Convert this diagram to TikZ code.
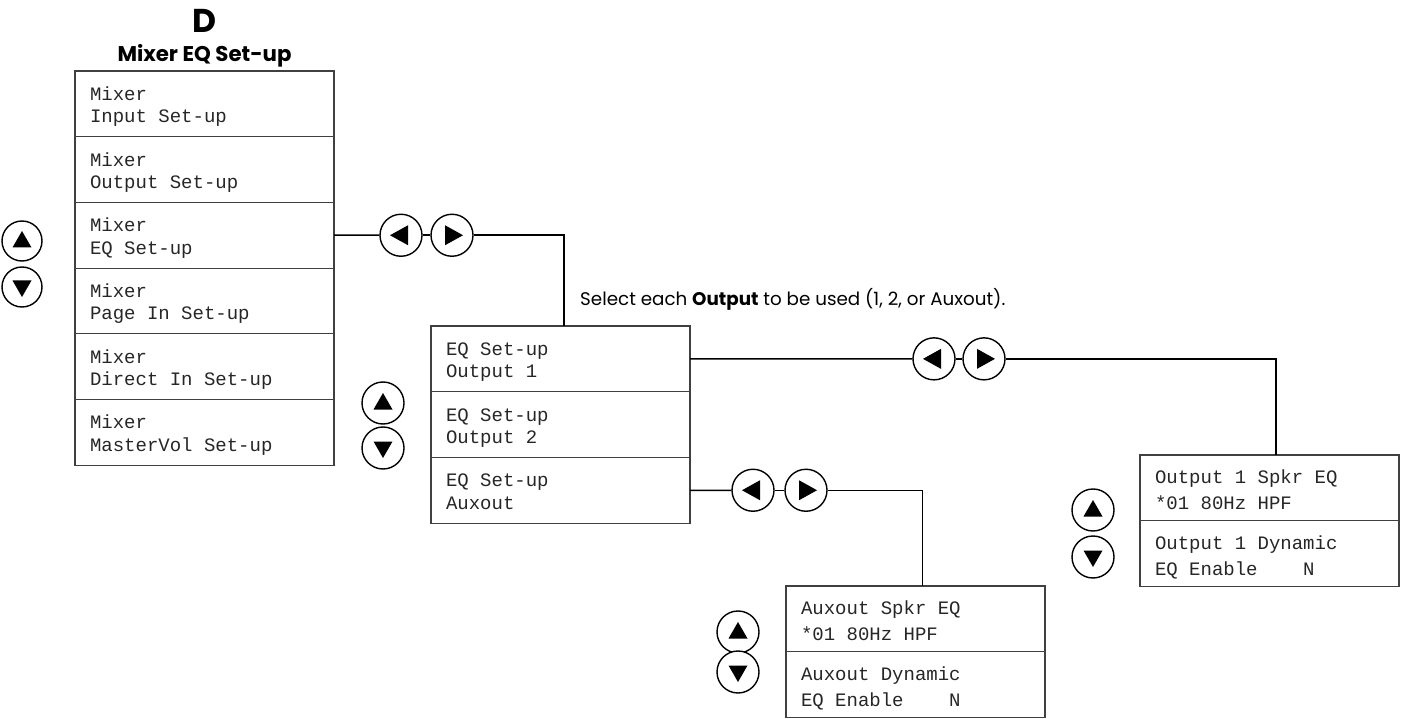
\documentclass[tikz,border=0pt]{standalone}
\usepackage{fontspec}
\setmainfont{Poppins}
\newfontfamily\lcd{Liberation Mono}
\newcommand{\lcdfont}[2]{\lcd\fontsize{#1}{#2}\selectfont}
\newcommand{\lsp}{\hspace{0.6em}}
\usetikzlibrary{calc}
\tikzset{
  row/.style={draw=black!75, line width=1.1pt, minimum width=259pt, minimum height=65.7pt,
    text width=229pt, align=left, inner sep=0pt, outer sep=0pt, anchor=north west, text=black!85,
    font=\lcdfont{19}{22.5}, text height=10pt, text depth=17pt},
  rowb/.style={row, font=\lcdfont{19}{26}, text height=10pt, text depth=18.4pt},
  conn/.style={draw=black, line width=1.5pt},
  btn/.style={circle, draw=black, line width=1.4pt, minimum size=42pt, inner sep=0pt, fill=white},
  bl/.style={btn, path picture={\fill[black] ([shift={(-11pt,0pt)}]path picture bounding box.center) -- ++(18pt,10pt) -- ++(0pt,-20pt) -- cycle;}},
  br/.style={btn, path picture={\fill[black] ([shift={(11pt,0pt)}]path picture bounding box.center) -- ++(-18pt,10pt) -- ++(0pt,-20pt) -- cycle;}},
  bu/.style={btn, path picture={\fill[black] ([shift={(0pt,10pt)}]path picture bounding box.center) -- ++(9.5pt,-16.5pt) -- ++(-19pt,0pt) -- cycle;}},
  bd/.style={btn, path picture={\fill[black] ([shift={(0pt,-10pt)}]path picture bounding box.center) -- ++(9.5pt,16.5pt) -- ++(-19pt,0pt) -- cycle;}},
}
\begin{document}
\begin{tikzpicture}[x=1pt, y=-1pt]
\useasboundingbox (0,0) rectangle (1406,719);

% title
\node[anchor=base, font=\bfseries\fontsize{33}{33}\selectfont] (ttlD) at (204.5,33) {D};
\node[anchor=base, font=\bfseries\fontsize{21.3}{22}\selectfont] (ttl) at (204.5,62) {Mixer EQ Set-up};

% left column
\node[row] (L1) at (75,71) {Mixer\\Input\lsp Set-up};
\node[row] (L2) at (L1.south west) {Mixer\\Output\lsp Set-up};
\node[row] (L3) at (L2.south west) {Mixer\\EQ\lsp Set-up};
\node[row] (L4) at (L3.south west) {Mixer\\Page\lsp In\lsp Set-up};
\node[row] (L5) at (L4.south west) {Mixer\\Direct\lsp In\lsp Set-up};
\node[row] (L6) at (L5.south west) {Mixer\\MasterVol\lsp Set-up};
\node[bu, minimum size=40pt] (Lu) at (22,241) {};
\node[bd, minimum size=40pt] (Ld) at (22,287) {};

% middle column
\node[row] (M1) at (431,326) {EQ\lsp Set-up\\Output\lsp 1};
\node[row] (M2) at (M1.south west) {EQ\lsp Set-up\\Output\lsp 2};
\node[row] (M3) at (M2.south west) {EQ\lsp Set-up\\Auxout};
\node[bu] (Mu) at (383,403) {};
\node[bd] (Md) at (383,448) {};

% right box
\node[rowb] (R1) at (1140,455) {Output\lsp 1\lsp Spkr\lsp EQ\\{*}01\lsp 80Hz\lsp HPF};
\node[rowb] (R2) at (R1.south west) {Output\lsp 1\lsp Dynamic\\EQ\lsp Enable\lsp\lsp\lsp\lsp N};
\node[bu] (Ru) at (1093,510) {};
\node[bd] (Rd) at (1093,557) {};

% bottom box
\node[rowb] (B1) at (786,586) {Auxout\lsp Spkr\lsp EQ\\{*}01\lsp 80Hz\lsp HPF};
\node[rowb] (B2) at (B1.south west) {Auxout\lsp Dynamic\\EQ\lsp Enable\lsp\lsp\lsp\lsp N};
\node[bu] (Bu) at (738,632) {};
\node[bd] (Bd) at (738,672) {};

% left/right button pairs
\node[bl] (lb1) at (401,235.25) {};
\node[br] (rb1) at (452,235.25) {};
\node[bl] (lb2) at (934,358.85) {};
\node[br] (rb2) at (984,358.85) {};
\node[bl] (lb3) at (753,490.25) {};
\node[br] (rb3) at (806,490.25) {};

% connectors
\draw[conn] (L3.east) -- (lb1);
\draw[conn] (lb1) -- (rb1);
\draw[conn] (rb1) -| ([xshift=3.5pt]M1.north);
\draw[conn] (M1.east) -- (lb2);
\draw[conn] (lb2) -- (rb2);
\draw[conn] (rb2) -| ([xshift=6.5pt]R1.north);
\draw[conn] (M3.east) -- (lb3);
\draw[conn] (lb3) -- (rb3);
\draw[conn] (rb3) -| ([xshift=7pt]B1.north);

% note
\node[anchor=base west, inner sep=0pt, font=\fontsize{18.3}{20}\selectfont] (note) at (580,306)
  {Select each \textbf{Output} to be used (1, 2, or Auxout).};
\end{tikzpicture}
\end{document}
